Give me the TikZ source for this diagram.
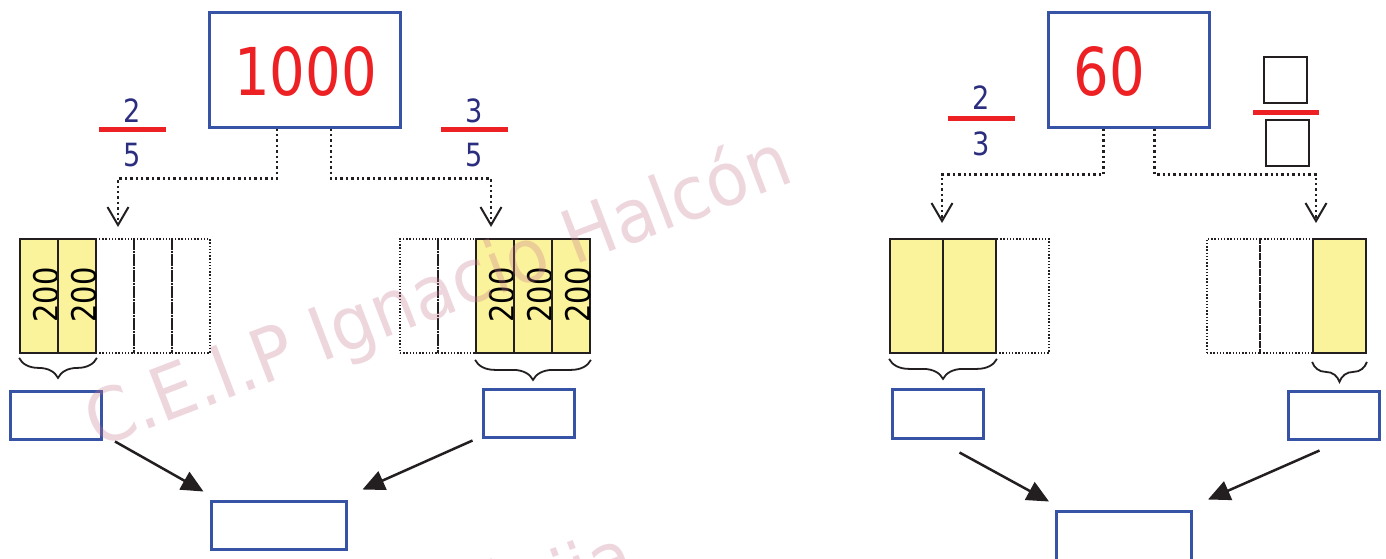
\documentclass[tikz,border=0pt]{standalone}
\usepackage{fontspec}
\setmainfont{DejaVu Sans}
\newfontfamily\dfont[FakeStretch=0.85]{DejaVu Sans}
\newfontfamily\wfont[FakeStretch=0.93]{DejaVu Sans}
\usetikzlibrary{arrows.meta,decorations.pathreplacing}
\definecolor{boxblue}{RGB}{54,83,165}
\definecolor{redc}{RGB}{237,32,36}
\definecolor{fracblue}{RGB}{43,46,127}
\definecolor{yellowc}{RGB}{251,243,155}
\definecolor{linec}{RGB}{35,31,32}
\definecolor{wmc}{RGB}{200,120,145}
\tikzset{
  bluebox/.style={draw=boxblue, line width=3pt, inner sep=0pt, fill=white},
  bignum/.style={text=redc, font=\dfont\fontsize{66}{70}\selectfont, inner sep=0pt},
  fracnum/.style={text=fracblue, font=\dfont\fontsize{32}{36}\selectfont, inner sep=0pt},
  fracbar/.style={fill=redc, draw=none},
  dcell/.style={draw=linec, line width=1.3pt, dash pattern=on 1.4pt off 1.8pt, inner sep=0pt, minimum height=114pt},
  ycell/.style={draw=linec, fill=yellowc, line width=1.8pt, inner sep=0pt, minimum height=114pt},
  celltext/.style={text=black, font=\dfont\fontsize{34}{36}\selectfont, inner sep=0pt, rotate=90},
  conn/.style={draw=linec, line width=2.4pt, dash pattern=on 2.4pt off 3pt, -{Straight Barb[length=18pt,width=21pt,line width=2pt]}},
  solarrow/.style={draw=linec, line width=2.5pt, -{Triangle[length=22pt,width=20pt]}},
  bracestyle/.style={draw=linec, line width=1.8pt, decorate, decoration={brace, mirror, amplitude=20pt}},
  sqbox/.style={draw=linec, line width=2pt, inner sep=0pt, minimum width=43pt, minimum height=46pt},
  wm/.style={text=wmc, opacity=0.3, font=\wfont\fontsize{74}{80}\selectfont, inner sep=0pt}
}
\begin{document}
\begin{tikzpicture}[x=1pt,y=-1pt]
\useasboundingbox (0,0) rectangle (1386,558);
\clip (0,0) rectangle (1386,558);
\fill[white] (0,0) rectangle (1386,558);

% ---------- LEFT HALF ----------
\node[bluebox, minimum width=191pt, minimum height=115pt] (topA) at (304.5,69.5) {};
\node[bignum] (numA) at (305.5,71) {1000};

\node[fracnum] (fA1n) at (132,111) {2};
\node[fracbar, minimum width=67pt, minimum height=5pt, inner sep=0pt] (fA1b) at (132.5,129.5) {};
\node[fracnum] (fA1d) at (132,155) {5};

\node[fracnum] (fA2n) at (474,111) {3};
\node[fracbar, minimum width=67pt, minimum height=5pt, inner sep=0pt] (fA2b) at (474.5,129.5) {};
\node[fracnum] (fA2d) at (474,155) {5};

% bar 1
\foreach \i in {0,...,4} \node[dcell, minimum width=38pt] (La\i) at (39+38*\i,296) {};
\foreach \i in {0,1} {
  \node[ycell, minimum width=38pt] (Ly\i) at (39+38*\i,296) {};
  \node[celltext] (Lt\i) at (46+38*\i,295) {200};
}
% bar 2
\foreach \i in {0,...,4} \node[dcell, minimum width=38pt] (Ra\i) at (419+38*\i,296) {};
\foreach \i in {2,3,4} {
  \node[ycell, minimum width=38pt] (Ry\i) at (419+38*\i,296) {};
  \node[celltext] (Rt\i) at (426+38*\i,295) {200};
}

\coordinate (kA1) at (118,227);
\coordinate (kA2) at (491,227);
\draw[conn] ([xshift=-27.5pt]topA.south) -- ++(0,50) -| (kA1);
\draw[conn] ([xshift=26.5pt]topA.south) -- ++(0,50) -| (kA2);

\draw[bracestyle] ([yshift=-4pt]Ly0.south west) -- ([yshift=-4pt]Ly1.south east);
\draw[bracestyle] ([yshift=-6pt]Ry2.south west) -- ([yshift=-6pt]Ry4.south east);

\node[bluebox, minimum width=91pt, minimum height=48pt] (sA1) at (56,415) {};
\node[bluebox, minimum width=91pt, minimum height=48pt] (sA2) at (528.5,413) {};
\node[bluebox, minimum width=135pt, minimum height=48pt] (bA) at (278.5,525) {};

\draw[solarrow] ([xshift=12pt,yshift=-1pt]sA1.south east) -- ([xshift=-6pt,yshift=8pt]bA.north west);
\draw[solarrow] ([xshift=-9pt,yshift=-2pt]sA2.south west) -- ([xshift=15pt,yshift=10pt]bA.north east);

% ---------- RIGHT HALF ----------
\node[bluebox, minimum width=161pt, minimum height=115pt] (topB) at (1128.5,69.5) {};
\node[bignum] (numB) at (1109.5,71) {60};

\node[fracnum] (fB1n) at (981,98) {2};
\node[fracbar, minimum width=67pt, minimum height=5pt, inner sep=0pt] (fB1b) at (981.5,118) {};
\node[fracnum] (fB1d) at (981,144) {3};

\node[sqbox] (qB1) at (1285.5,80) {};
\node[fracbar, minimum width=66pt, minimum height=5pt, inner sep=0pt] (fB2b) at (1286,112) {};
\node[sqbox] (qB2) at (1287.5,142.5) {};

% bar 3
\foreach \i in {0,1,2} \node[dcell, minimum width=53pt] (Ma\i) at (916.5+53*\i,296) {};
\foreach \i in {0,1} \node[ycell, minimum width=53pt] (My\i) at (916.5+53*\i,296) {};
% bar 4
\foreach \i in {0,1,2} \node[dcell, minimum width=53pt] (Na\i) at (1233.5+53*\i,296) {};
\node[ycell, minimum width=53pt] (Ny2) at (1339.5,296) {};

\coordinate (kB1) at (942,223);
\coordinate (kB2) at (1316,223);
\draw[conn] ([xshift=-25pt]topB.south) -- ++(0,46) -| (kB1);
\draw[conn] ([xshift=26pt]topB.south) -- ++(0,46) -| (kB2);

\draw[bracestyle] ([yshift=-5pt]My0.south west) -- ([yshift=-5pt]My1.south east);
\draw[bracestyle] ([yshift=-8pt]Ny2.south west) -- ([yshift=-8pt]Ny2.south east);

\node[bluebox, minimum width=91pt, minimum height=49pt] (sB1) at (937.5,413.5) {};
\node[bluebox, minimum width=91pt, minimum height=48pt] (sB2) at (1333.5,415) {};
\node[bluebox, minimum width=135pt, minimum height=60pt] (bB) at (1124,541) {};

\draw[solarrow] ([xshift=22pt,yshift=-13pt]sB1.south) -- ([xshift=-6pt,yshift=8pt]bB.north west);
\draw[solarrow] ([xshift=-14pt,yshift=-10pt]sB2.south) -- ([xshift=15pt,yshift=10pt]bB.north east);

% ---------- WATERMARK ----------
\node[wm, rotate=21, anchor=base west] (wm1) at (97,449) {C.E.I.P Ignacio Halcón};
\node[wm, rotate=21, anchor=base west] (wm2) at (488,634) {Écija};
\end{tikzpicture}
\end{document}
